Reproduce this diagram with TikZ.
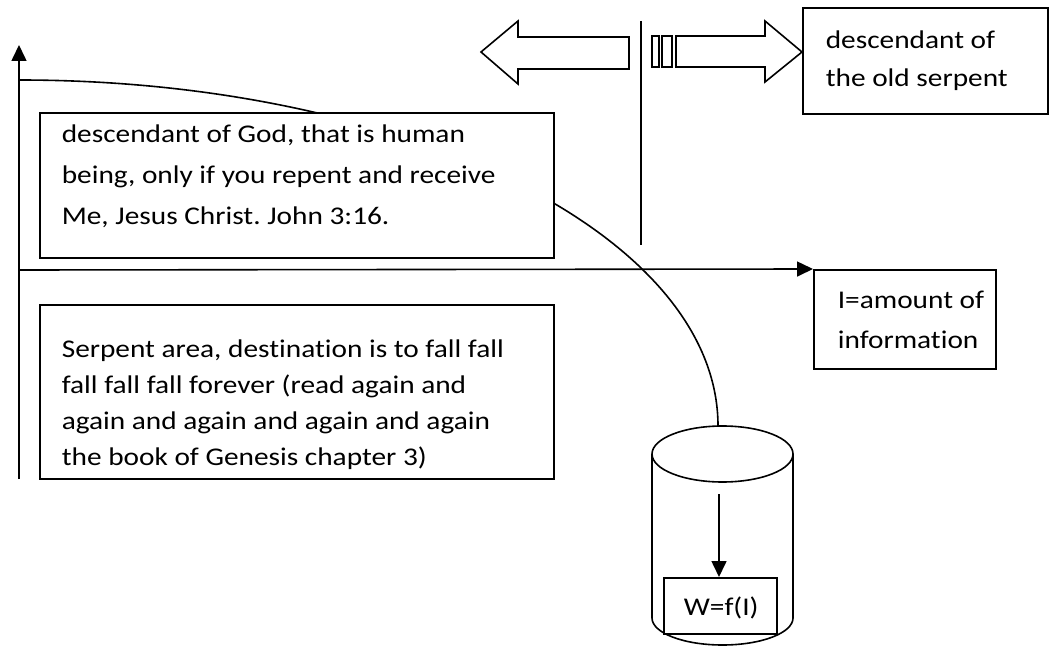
\documentclass[tikz,border=0pt]{standalone}
\usepackage{fontspec}
\setmainfont{Carlito}[FakeStretch=1.15, Ligatures={NoCommon}]
\usetikzlibrary{arrows.meta}
\frenchspacing
\begin{document}
\begin{tikzpicture}[x=1pt,y=-1pt, line width=1.6pt,
  txt/.style={anchor=base west, inner sep=0pt, font=\fontsize{25.5}{30}\selectfont},
  box/.style={draw, fill=white, anchor=north west, inner sep=0pt},
  tip/.style={-{Triangle[length=16pt,width=15pt]}}]
\useasboundingbox (0,0) rectangle (1049,647);
% axes
\coordinate (ybot) at (19,479);
\coordinate (ytop) at (19,45);
\coordinate (xleft) at (19,270);
\coordinate (c0) at (19,80);
\draw[tip] (ybot) -- (ytop);
% curve (quarter ellipse) to the cylinder top
\draw (c0) arc[start angle=270, end angle=360, x radius=699, y radius=346] coordinate (cend);
% boxes
\node[box, minimum width=514, minimum height=145] (god) at (39,112) {};
\node[box, minimum width=514, minimum height=174] (serp) at (39,304) {};
\node[box, minimum width=245, minimum height=106] (old) at (802,7) {};
\node[box, minimum width=182, minimum height=99] (info) at (813,269) {};
\draw[tip] (xleft) -- (info.north west);
% texts
\node[txt] (g1) at (61,143) {descendant of God, that is human};
\node[txt] (g2) at (61,184) {being, only if you repent and receive};
\node[txt] (g3) at (61,224) {Me, Jesus Christ. John 3:16.};
\begin{scope}
\clip (39,300) rectangle (553,469);
\node[txt] (s1) at (61,357) {Serpent area, destination is to fall fall};
\node[txt] (s2) at (61,393) {fall fall fall forever (read again and};
\node[txt] (s3) at (61,429) {again and again and again and again};
\node[txt] (s4) at (61,465) {the book of Genesis chapter 3)};
\end{scope}
\node[txt] (o1) at (825,49) {descendant of};
\node[txt] (o2) at (825,87) {the old serpent};
\node[txt] (i1) at (837,308) {I=amount of};
\node[txt] (i2) at (837,348) {information};
% separator and block arrows
\coordinate (vtop) at (641,21);
\coordinate (vbot) at (641,245);
\draw (vtop) -- (vbot);
\draw (481,52) -- (518,21) -- (518,37) -- (629,37) -- (629,69) -- (518,69) -- (518,84) -- cycle;
\draw (652,36) rectangle (659,67);
\draw (662,36) rectangle (672,67);
\draw (676,36) -- (765,36) -- (765,21) -- (old.west |- 0,52) -- (765,82) -- (765,67) -- (676,67) -- cycle;
% cylinder
\draw (652,454) -- (652,618) arc[start angle=180, end angle=0, x radius=70.5, y radius=27] -- (793,454);
\draw (722.5,454) ellipse[x radius=70.5, y radius=28];
\node[box, minimum width=113, minimum height=56] (w) at (663,577) {};
\node[txt] (wt) at (683,615) {W=f(I)};
\coordinate (wa) at (719,494);
\draw[tip] (wa) -- (w.north -| wa);
\end{tikzpicture}
\end{document}
